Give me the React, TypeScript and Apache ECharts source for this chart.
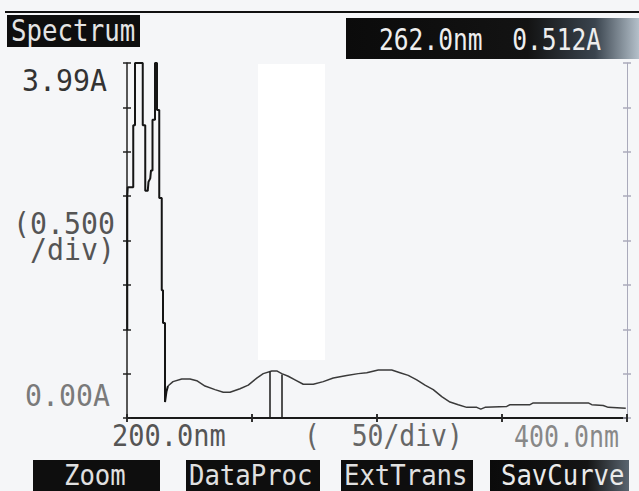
import React, { useEffect, useRef } from "react";
import * as echarts from "echarts";

// Noisy / saturated region at short wavelengths
const noisyNm = [200.1, 200.1, 200.3, 202.5, 202.5, 203.2, 203.2, 206.3, 206.3, 207.3, 207.3, 208.3, 208.6, 209.3, 209.6, 210.2, 210.2, 211.2, 211.2, 212.0, 212.0, 212.9, 212.9, 213.9, 213.9, 214.4, 214.4, 215.2, 215.2, 215.8, 216.4];
const noisyA = [0.99, 2.5, 2.6, 2.6, 3.3, 3.3, 4.0, 4.0, 3.3, 3.3, 2.56, 2.56, 2.66, 2.7, 2.79, 2.79, 3.36, 3.36, 4.0, 4.0, 3.47, 3.47, 2.48, 2.48, 1.44, 1.44, 1.07, 1.07, 0.18, 0.3, 0.36];

// Smooth part of the spectrum
const curveNm = [216.4, 218.4, 221.9, 225.2, 227.9, 231.2, 235.2, 238.5, 241.2, 245.2, 248.5, 251.9, 254.5, 257.9, 259.9, 261.9, 264.5, 267.2, 270.5, 274.5, 278.5, 282.5, 287.9, 292.5, 295.9, 300.5, 305.9, 309.2, 312.5, 315.9, 319.2, 322.5, 325.9, 329.2, 332.5, 335.9, 339.9, 341.5, 343.2, 351.9, 353.2, 361.2, 362.5, 371.9, 384.5, 385.9, 390.5, 392.5, 399.5];
const curveA = [0.36, 0.41, 0.44, 0.44, 0.42, 0.36, 0.32, 0.29, 0.29, 0.33, 0.37, 0.45, 0.5, 0.53, 0.53, 0.5, 0.47, 0.43, 0.38, 0.38, 0.41, 0.45, 0.48, 0.5, 0.51, 0.54, 0.54, 0.51, 0.48, 0.43, 0.37, 0.32, 0.24, 0.18, 0.15, 0.12, 0.12, 0.1, 0.12, 0.13, 0.15, 0.15, 0.17, 0.17, 0.17, 0.15, 0.14, 0.12, 0.11];

// Cursor lines
const cursorNm = [257.2, 262.0];
const cursorA = [0.52, 0.49];

const headerTexts = ["Spectrum", "262.0nm  0.512A"];
const yTickLabels = ["3.99A", "(0.500", " /div)", "0.00A"];
const xTickLabels = ["200.0nm", "(  50/div)", "400.0nm"];
const buttonLabels = ["Zoom", "DataProc", "ExtTrans", "SavCurve"];

function txt(text: string, x: number, y: number, fill: string, scaleX: number, size = 30, scaleY = 1) {
  return {
    type: "text",
    x,
    y,
    scaleX,
    scaleY,
    z: 10,
    style: { text, font: `${size}px 'DejaVu Sans Mono', monospace`, fill, align: "left", verticalAlign: "middle" },
  };
}

function rect(x: number, y: number, w: number, h: number, fill: any, z = 5) {
  return { type: "rect", z, shape: { x, y, width: w, height: h }, style: { fill } };
}

export default function App() {
  const ref = useRef<HTMLDivElement>(null);
  useEffect(() => {
    if (!ref.current) return;
    const chart = echarts.init(ref.current, undefined, { renderer: "svg" });

    const xBase = { type: "value", min: 200, max: 400, interval: 50, axisLabel: { show: false }, splitLine: { show: false } };
    const yBase = { type: "value", min: 0, max: 4, interval: 0.5, axisLabel: { show: false }, splitLine: { show: false } };
    const tick = (color: string, inside: boolean) => ({ show: true, inside, length: 4, lineStyle: { color, width: 1.5 } });

    const fadeBox = new echarts.graphic.LinearGradient(0, 0, 1, 0, [
      { offset: 0, color: "#0b0b0b" },
      { offset: 0.62, color: "#131313" },
      { offset: 0.85, color: "#3a444e" },
      { offset: 1, color: "#b4c0ca" },
    ]);
    const fadeBtn = new echarts.graphic.LinearGradient(0, 0, 1, 0, [
      { offset: 0, color: "#0b0b0b" },
      { offset: 0.7, color: "#141414" },
      { offset: 1, color: "#5a6570" },
    ]);

    chart.setOption({
      animation: false,
      backgroundColor: "#f5f6f8",
      grid: { left: 127, top: 63, width: 500, height: 355, containLabel: false },
      xAxis: [
        { ...xBase, position: "bottom", axisLine: { show: true, lineStyle: { color: "#555", width: 1.5 } }, axisTick: tick("#333", false) },
        { ...xBase, position: "bottom", axisLine: { show: false }, axisTick: tick("#333", true) },
        { ...xBase, position: "top", axisLine: { show: true, lineStyle: { color: "#1a1a1a", width: 2 } }, axisTick: tick("#222", false) },
        { ...xBase, position: "top", axisLine: { show: false }, axisTick: tick("#222", true) },
      ],
      yAxis: [
        { ...yBase, position: "left", axisLine: { show: true, lineStyle: { color: "#222", width: 1.5 } }, axisTick: tick("#222", false) },
        { ...yBase, position: "left", axisLine: { show: false }, axisTick: tick("#222", true) },
        { ...yBase, position: "right", axisLine: { show: true, lineStyle: { color: "#aab", width: 1 } }, axisTick: tick("#aab", false) },
        { ...yBase, position: "right", axisLine: { show: false }, axisTick: tick("#aab", true) },
      ],
      graphic: [
        rect(258, 64, 67, 296, "#ffffff", 0),
        { type: "line", z: 5, shape: { x1: 5, y1: 12, x2: 639, y2: 12 }, style: { stroke: "#111", lineWidth: 2 } },
        rect(7, 15, 133, 32, "#0e0e0e"),
        txt(headerTexts[0], 11, 31, "#e4e4e4", 0.86),
        rect(346, 18, 293, 41, fadeBox),
        txt(headerTexts[1], 379, 40, "#eeeeee", 0.82),
        txt(yTickLabels[0], 22, 81, "#333", 0.94),
        txt(yTickLabels[1], 13, 224, "#555", 0.94),
        txt(yTickLabels[2], 13, 250, "#555", 0.94),
        txt(yTickLabels[3], 25, 396, "#7a7a7a", 0.94),
        txt(xTickLabels[0], 112, 436, "#555", 0.9),
        txt(xTickLabels[1], 304, 436, "#666", 0.88),
        txt(xTickLabels[2], 514, 436, "#888", 0.83),
        rect(33, 460, 127, 31, "#0e0e0e"),
        txt(buttonLabels[0], 64, 475, "#e0e0e0", 0.95, 27, 1.05),
        rect(186, 460, 134, 31, "#0e0e0e"),
        txt(buttonLabels[1], 189, 475, "#e0e0e0", 0.95, 27, 1.05),
        rect(341, 460, 132, 31, "#0e0e0e"),
        txt(buttonLabels[2], 344, 475, "#e0e0e0", 0.95, 27, 1.05),
        rect(490, 460, 139, 31, fadeBtn),
        txt(buttonLabels[3], 501, 475, "#eaeaea", 0.95, 27, 1.05),
      ],
      series: [
        {
          type: "line",
          xAxisIndex: 0,
          yAxisIndex: 0,
          symbol: "none",
          z: 3,
          lineStyle: { color: "#151515", width: 2 },
          data: noisyNm.map((w, i) => [w, noisyA[i]]),
        },
        {
          type: "line",
          xAxisIndex: 0,
          yAxisIndex: 0,
          symbol: "none",
          z: 3,
          lineStyle: { color: "#3a3a3a", width: 1.5 },
          data: curveNm.map((w, i) => [w, curveA[i]]),
        },
        ...cursorNm.map((c, i) => ({
          type: "line",
          xAxisIndex: 0,
          yAxisIndex: 0,
          symbol: "none",
          z: 3,
          lineStyle: { color: "#1a1a1a", width: 1.5 },
          data: [[c, 0], [c, cursorA[i]]],
        })),
      ],
    });
    return () => chart.dispose();
  }, []);
  return <div ref={ref} style={{ position: "absolute", left: 0, top: 0, width: 639, height: 491 }} />;
}
